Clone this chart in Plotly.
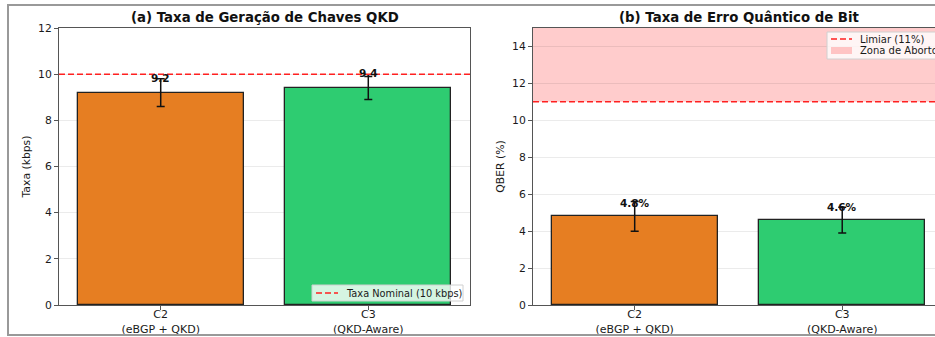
import plotly.graph_objects as go

categories = ["C2<br>(eBGP + QKD)", "C3<br>(QKD-Aware)"]
bar_colors = ["#e67e22", "#2ecc71"]
key_rate = [9.2, 9.4]
key_rate_err = [0.6, 0.5]
qber = [4.8, 4.6]
qber_err = [0.8, 0.7]
nominal_rate = 10
qber_threshold = 11
qber_axis_max = 15
rate_ticks = [0, 2, 4, 6, 8, 10, 12]
qber_ticks = [0, 2, 4, 6, 8, 10, 12, 14]
legend_nominal = "Taxa Nominal (10 kbps)"
legend_threshold = "Limiar (11%)"
legend_zone = "Zona de Aborto"

W, H = 935, 337
ML, MR, MT, MB = 59, 0, 28, 32
PW = W - ML - MR
PH = H - MT - MB

def px_x(p):
    return (p - ML) / PW

def px_y(p):
    return (H - MB - p) / PH

FONT = "DejaVu Sans"
TXT = "#1a1a1a"
AXC = "#555555"
RED = "#ff2020"
DASH = "6px,3px"

fig = go.Figure()

xs = [0, 1]
fig.add_trace(go.Bar(
    x=xs, y=key_rate, width=0.8, marker=dict(color=bar_colors, line=dict(color="#222222", width=1.3)),
    error_y=dict(type="data", array=key_rate_err, color="#111111", thickness=1.5, width=4),
    showlegend=False, xaxis="x", yaxis="y", hoverinfo="skip"))
fig.add_trace(go.Bar(
    x=xs, y=qber, width=0.8, marker=dict(color=bar_colors, line=dict(color="#222222", width=1.3)),
    error_y=dict(type="data", array=qber_err, color="#111111", thickness=1.5, width=4),
    showlegend=False, xaxis="x2", yaxis="y2", hoverinfo="skip"))

# value labels
for i, v in enumerate(key_rate):
    fig.add_annotation(x=xs[i], y=v + 0.3, xref="x", yref="y", text=f"<b>{v:.1f}</b>",
                       showarrow=False, xanchor="center", yanchor="bottom",
                       font=dict(family=FONT, size=10.5, color="#111"))
for i, v in enumerate(qber):
    fig.add_annotation(x=xs[i], y=v + 0.3, xref="x2", yref="y2", text=f"<b>{v:.1f}%</b>",
                       showarrow=False, xanchor="center", yanchor="bottom",
                       font=dict(family=FONT, size=10.5, color="#111"))

# reference lines / zones
fig.add_shape(type="rect", xref="x2 domain", yref="y2", x0=0, x1=1, y0=qber_threshold, y1=qber_axis_max,
              fillcolor="rgba(255,0,0,0.2)", line=dict(width=0), layer="below")
fig.add_shape(type="line", xref="x domain", yref="y", x0=0, x1=1, y0=nominal_rate, y1=nominal_rate,
              line=dict(color=RED, width=1.5, dash=DASH))
fig.add_shape(type="line", xref="x2 domain", yref="y2", x0=0, x1=1, y0=qber_threshold, y1=qber_threshold,
              line=dict(color=RED, width=1.5, dash=DASH))

# legend (a)
fig.add_shape(type="rect", xref="paper", yref="paper", x0=px_x(312), x1=px_x(463), y0=px_y(301), y1=px_y(285),
              fillcolor="rgba(255,255,255,0.8)", line=dict(color="#d0d0d0", width=1), layer="above")
fig.add_shape(type="line", xref="paper", yref="paper", x0=px_x(316), x1=px_x(338), y0=px_y(293), y1=px_y(293),
              line=dict(color=RED, width=1.5, dash=DASH), layer="above")
fig.add_annotation(x=px_x(344), y=px_y(293), xref="paper", yref="paper", text=legend_nominal, showarrow=False,
                   xanchor="left", yanchor="middle", font=dict(family=FONT, size=9.8, color=TXT))

# legend (b)
fig.add_shape(type="rect", xref="paper", yref="paper", x0=px_x(827), x1=px_x(960), y0=px_y(59), y1=px_y(32),
              fillcolor="rgba(255,255,255,0.8)", line=dict(color="#d0d0d0", width=1), layer="above")
fig.add_shape(type="line", xref="paper", yref="paper", x0=px_x(831), x1=px_x(852), y0=px_y(39), y1=px_y(39),
              line=dict(color=RED, width=1.5, dash=DASH), layer="above")
fig.add_shape(type="rect", xref="paper", yref="paper", x0=px_x(831), x1=px_x(852), y0=px_y(54), y1=px_y(47),
              fillcolor="rgba(255,0,0,0.2)", line=dict(width=0), layer="above")
fig.add_annotation(x=px_x(858), y=px_y(39), xref="paper", yref="paper", text=legend_threshold, showarrow=False,
                   xanchor="left", yanchor="middle", font=dict(family=FONT, size=10, color=TXT))
fig.add_annotation(x=px_x(858), y=px_y(51), xref="paper", yref="paper", text=legend_zone, showarrow=False,
                   xanchor="left", yanchor="middle", font=dict(family=FONT, size=10, color=TXT))

# outer frame
fig.add_shape(type="rect", xref="paper", yref="paper", x0=px_x(8), x1=px_x(960), y0=px_y(335), y1=px_y(5),
              line=dict(color="#999999", width=2), fillcolor="rgba(0,0,0,0)", layer="above")

# titles
fig.add_annotation(x=px_x(264.5), y=px_y(18), xref="paper", yref="paper", showarrow=False,
                   xanchor="center", yanchor="middle",
                   text="<b>(a) Taxa de Geração de Chaves QKD</b>", font=dict(family=FONT, size=13.3, color="#111"))
fig.add_annotation(x=px_x(739.5), y=px_y(18), xref="paper", yref="paper", showarrow=False,
                   xanchor="center", yanchor="middle",
                   text="<b>(b) Taxa de Erro Quântico de Bit</b>", font=dict(family=FONT, size=13.3, color="#111"))

common_x = dict(tickmode="array", tickvals=xs, ticktext=categories, showline=True, linecolor=AXC, linewidth=1,
                mirror=True, ticks="outside", ticklen=4, tickcolor=AXC, showgrid=False, zeroline=False,
                ticklabelstandoff=-5,
                tickfont=dict(family=FONT, size=11, color=TXT), automargin=False, fixedrange=True)
common_y = dict(showline=True, linecolor=AXC, linewidth=1, ticks="outside", ticklen=4, tickcolor=AXC,
                showgrid=True, gridcolor="rgba(0,0,0,0.08)", gridwidth=1, zeroline=False,
                tickfont=dict(family=FONT, size=10.8, color=TXT), automargin=False, fixedrange=True)

fig.update_layout(
    width=W, height=H, margin=dict(l=ML, r=MR, t=MT, b=MB, autoexpand=False),
    paper_bgcolor="white", plot_bgcolor="white", bargap=0, showlegend=False,
    xaxis=dict(domain=[0, px_x(470)], range=[-0.49, 1.49], anchor="y", **common_x),
    yaxis=dict(domain=[0, 1], range=[0, 12], tickvals=rate_ticks, anchor="x", mirror=True,
               title=dict(text="Taxa (kbps)", standoff=5, font=dict(family=FONT, size=10.8, color=TXT)), **common_y),
    xaxis2=dict(domain=[px_x(533), 1], range=[-0.49, 1.447], anchor="y2", **common_x),
    yaxis2=dict(domain=[0, 1], range=[0, qber_axis_max], tickvals=qber_ticks, anchor="x2", mirror=False,
                title=dict(text="QBER (%)", standoff=5, font=dict(family=FONT, size=10.8, color=TXT)), **common_y),
)

fig.write_html("out.html", config={"displayModeBar": False},
               post_script="document.body.style.margin='0px';document.body.style.overflow='hidden';")
